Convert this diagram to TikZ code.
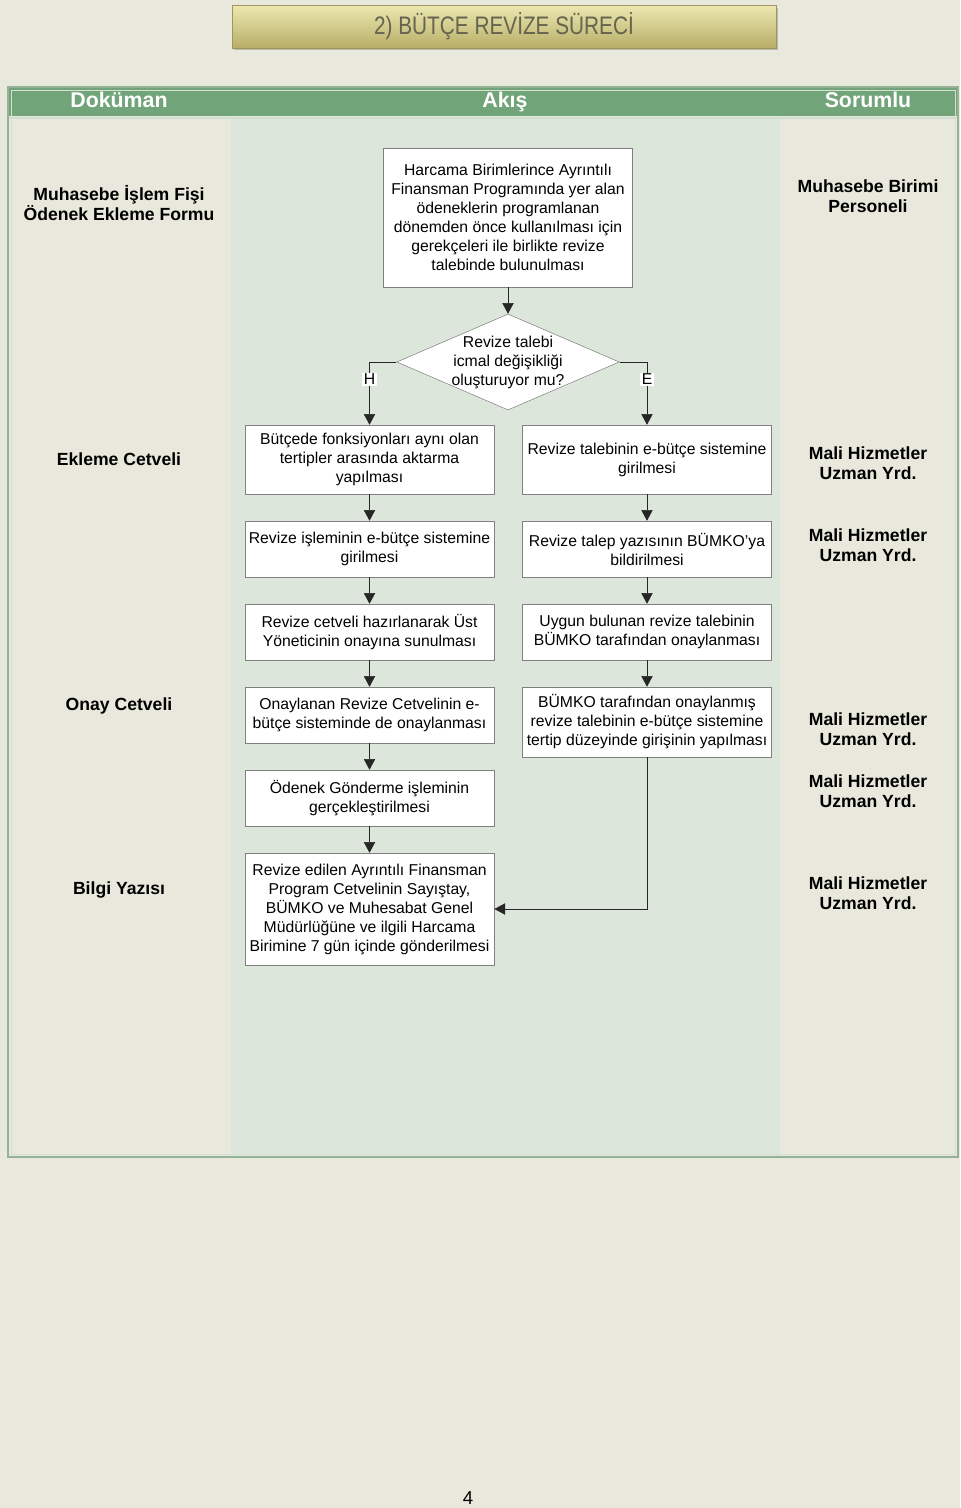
\documentclass[tikz,border=0pt]{standalone}
\usepackage{fontspec}
\setmainfont{Liberation Sans}
\newfontfamily\titlefont{Liberation Sans}[FakeStretch=0.82]
\usetikzlibrary{shapes.geometric,arrows.meta,shadows}

\definecolor{pagebg}{RGB}{233,232,220}
\definecolor{flowbg}{RGB}{220,230,218}
\definecolor{headgreen}{RGB}{114,164,122}
\definecolor{framegreen}{RGB}{150,178,150}
\definecolor{boxline}{RGB}{128,128,128}
\definecolor{titletop}{RGB}{236,232,176}
\definecolor{titlemid}{RGB}{214,206,140}
\definecolor{titlebot}{RGB}{184,174,104}
\definecolor{titleline}{RGB}{160,150,90}
\definecolor{titletext}{RGB}{100,100,80}

\tikzset{
	stepbox/.style={draw=boxline, fill=white, minimum width=187pt, align=center, inner sep=2pt, font=\fontsize{11.8}{14.25}\selectfont},
	decision/.style={diamond, draw=boxline, fill=white, minimum width=167pt, minimum height=72pt, inner sep=0pt},
	dectext/.style={align=center, font=\fontsize{11.8}{14.25}\selectfont},
	flow/.style={draw=black!85, -{Triangle[width=8.5pt,length=8pt]}},
	yesno/.style={fill=white, inner sep=1pt, font=\fontsize{11.8}{14.25}\selectfont},
	sidelabel/.style={align=center, font=\bfseries\fontsize{13.2}{15}\selectfont},
	headlabel/.style={anchor=base, text=white, font=\bfseries\fontsize{16}{18}\selectfont},
	titlebox/.style={draw=titleline, top color=titletop, middle color=titlemid, bottom color=titlebot, minimum width=408pt, minimum height=32pt, drop shadow={shadow xshift=1.5pt, shadow yshift=-2pt, opacity=.45}, text=titletext, font=\titlefont\fontsize{19}{22}\selectfont}
}

\begin{document}
\begin{tikzpicture}[x=.75pt,y=-.75pt]

		\useasboundingbox (0,0) rectangle (960,1508);
		\fill[pagebg] (0,0) rectangle (960,1508);

		\node[titlebox] (title) at (504,26.5) {2) BÜTÇE REVİZE SÜRECİ};

		\fill[flowbg] (231,117) rectangle (780,1157);
		\fill[headgreen] (9,88) rectangle (957,116);
		\draw[line width=1pt, white!65!headgreen] (9,118) -- (957,118);
		\draw[line width=1.5pt, framegreen] (8,87) rectangle (958,1157);
		\draw[line width=.6pt, white!60!framegreen] (11,90) rectangle (955,1154);

		\node[headlabel] (hdoc) at (119,108) {Doküman};
		\node[headlabel] (hflow) at (505,108) {Akış};
		\node[headlabel] (hresp) at (868,108) {Sorumlu};

		\node[stepbox, minimum height=104pt] (b1) at (508,217.5) {Harcama Birimlerince Ayrıntılı\\Finansman Programında yer alan\\ödeneklerin programlanan\\dönemden önce kullanılması için\\gerekçeleri ile birlikte revize\\talebinde bulunulması};
		\node[decision] (dec) at (508,362) {};
		\node[dectext] (dtext) at (508,362) {Revize talebi\\icmal değişikliği\\oluşturuyor mu?};

		\node[stepbox, minimum height=51.75pt] (l1) at (369.5,459.5) {Bütçede fonksiyonları aynı olan\\tertipler arasında aktarma\\yapılması};
		\node[stepbox, minimum height=51.75pt] (r1) at (647,459.5) {Revize talebinin e-bütçe sistemine\\girilmesi};
		\node[stepbox, minimum height=42pt] (l2) at (369.5,549) {Revize işleminin e-bütçe sistemine\\girilmesi};
		\node[stepbox, minimum height=42pt] (r2) at (647,549) {Revize talep yazısının BÜMKO’ya\\bildirilmesi};
		\node[stepbox, minimum height=42pt] (l3) at (369.5,632) {Revize cetveli hazırlanarak Üst\\Yöneticinin onayına sunulması};
		\node[stepbox, minimum height=42pt] (r3) at (647,632) {Uygun bulunan revize talebinin\\BÜMKO tarafından onaylanması};
		\node[stepbox, minimum height=42pt] (l4) at (369.5,715) {Onaylanan Revize Cetvelinin e-\\bütçe sisteminde de onaylanması};
		\node[stepbox, minimum height=52.5pt] (r4) at (647,722) {BÜMKO tarafından onaylanmış\\revize talebinin e-bütçe sistemine\\tertip düzeyinde girişinin yapılması};
		\node[stepbox, minimum height=42pt] (l5) at (369.5,798) {Ödenek Gönderme işleminin\\gerçekleştirilmesi};
		\node[stepbox, minimum height=84pt] (l6) at (369.5,909) {Revize edilen Ayrıntılı Finansman\\Program Cetvelinin Sayıştay,\\BÜMKO ve Muhesabat Genel\\Müdürlüğüne ve ilgili Harcama\\Birimine 7 gün içinde gönderilmesi};

		\draw[flow] (b1) -- (dec);
		\draw[flow] (dec.west) -| node[yesno, pos=.64] (hlab) {H} (l1.north);
		\draw[flow] (dec.east) -| node[yesno, pos=.64] (elab) {E} (r1.north);
		\draw[flow] (l1) -- (l2);
		\draw[flow] (l2) -- (l3);
		\draw[flow] (l3) -- (l4);
		\draw[flow] (l4) -- (l5);
		\draw[flow] (l5) -- (l6);
		\draw[flow] (r1) -- (r2);
		\draw[flow] (r2) -- (r3);
		\draw[flow] (r3) -- (r4);
		\draw[flow] (r4.south) |- (l6.east);

		\node[sidelabel] (doc1) at (119,203) {Muhasebe İşlem Fişi\\Ödenek Ekleme Formu};
		\node[sidelabel] (doc2) at (119,459) {Ekleme Cetveli};
		\node[sidelabel] (doc3) at (119,706) {Onay Cetveli};
		\node[sidelabel] (doc4) at (119,890) {Bilgi Yazısı};

		\node[sidelabel] (resp1) at (868,196) {Muhasebe Birimi\\Personeli};
		\node[sidelabel] (resp2) at (868,463) {Mali Hizmetler\\Uzman Yrd.};
		\node[sidelabel] (resp3) at (868,545) {Mali Hizmetler\\Uzman Yrd.};
		\node[sidelabel] (resp4) at (868,729) {Mali Hizmetler\\Uzman Yrd.};
		\node[sidelabel] (resp5) at (868,791) {Mali Hizmetler\\Uzman Yrd.};
		\node[sidelabel] (resp6) at (868,893) {Mali Hizmetler\\Uzman Yrd.};

		\node[font=\fontsize{14}{16}\selectfont] (pagenum) at (468,1498) {4};
	\end{tikzpicture}
\end{document}
